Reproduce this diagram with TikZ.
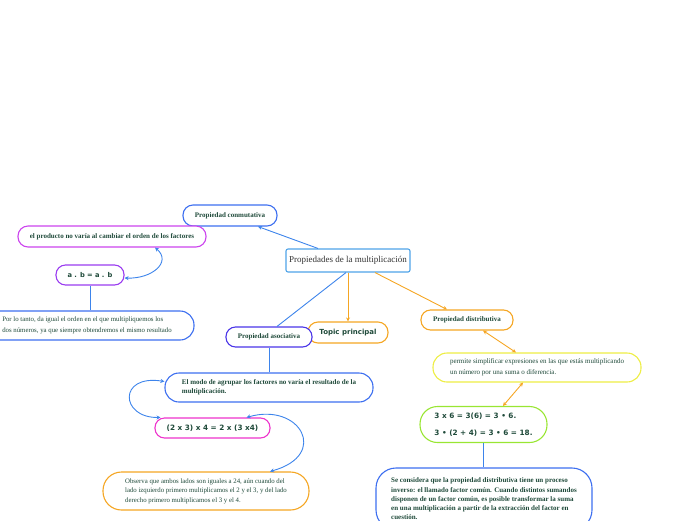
\documentclass[tikz,border=0pt]{standalone}
\usepackage{fontspec}
\setmainfont{Liberation Serif}
\newfontfamily\formfont{DejaVu Sans}
\usetikzlibrary{arrows.meta}
\definecolor{tgreen}{HTML}{1F4A3A}
\definecolor{rootblue}{HTML}{4FA3E8}
\definecolor{cblue}{HTML}{3D6FF0}
\definecolor{lblue}{HTML}{3D84EB}
\definecolor{cmag}{HTML}{CC44EE}
\definecolor{cpurp}{HTML}{9A3CF0}
\definecolor{cviol}{HTML}{4A35E8}
\definecolor{corange}{HTML}{F5A623}
\definecolor{cyellow}{HTML}{EEEE44}
\definecolor{cgreen}{HTML}{99E633}
\definecolor{cpink}{HTML}{EE33CC}
\tikzset{
  box/.style={draw, fill=white, line width=1.1pt, inner sep=0pt, align=left, text=tgreen},
  smallbold/.style={font=\fontsize{7}{9.2}\selectfont\bfseries},
  smallreg/.style={font=\fontsize{6.8}{11}\selectfont},
  formula/.style={font=\fontsize{7.3}{9}\selectfont\formfont\bfseries},
  bconn/.style={draw=lblue, line width=0.9pt},
  oconn/.style={draw=corange, line width=0.9pt},
  tip/.style={-{Stealth[length=4pt,width=4pt]}},
  dtip/.style={{Stealth[length=4pt,width=4pt]}-{Stealth[length=4pt,width=4pt]}}
}
\begin{document}
\begin{tikzpicture}[x=1pt,y=-1pt]
\useasboundingbox (0,0) rectangle (696,520);

% nodes
\node[box, draw=rootblue, rounded corners=2pt, minimum width=124pt, minimum height=23pt,
      text=black!80, font=\fontsize{9}{10}\selectfont] (root) at (348,260.5) {Propiedades de la multiplicación};

\node[box, draw=cblue, rounded corners=10pt, minimum width=94pt, minimum height=21pt, smallbold] (conm) at (230,215.5) {Propiedad conmutativa};
\node[box, draw=cmag, rounded corners=10pt, minimum width=188pt, minimum height=21pt, smallbold] (prod) at (112,236.5) {el producto no varía al cambiar el orden de los factores};
\node[box, draw=cpurp, rounded corners=9.5pt, minimum width=68pt, minimum height=20pt, formula, font=\fontsize{6.7}{9}\selectfont\formfont\bfseries] (ab) at (90,275) {a . b = a . b};
\node[box, draw=cblue, rounded corners=14pt, minimum width=214pt, minimum height=29pt, smallreg] (porlo) at (87,325.5) {Por lo tanto, da igual el orden en el que multipliquemos los\\dos números, ya que siempre obtendremos el mismo resultado};

\node[box, draw=corange, rounded corners=10pt, minimum width=80pt, minimum height=21pt,
      font=\fontsize{7}{9}\selectfont\formfont\bfseries] (topic) at (348,332.5) {Topic principal};
\node[box, draw=cviol, rounded corners=9.5pt, minimum width=86pt, minimum height=20pt, smallbold] (asoc) at (269,337) {Propiedad asociativa};
\node[box, draw=corange, rounded corners=9.5pt, minimum width=92pt, minimum height=20pt, smallbold] (distr) at (467,320) {Propiedad distributiva};

\node[box, draw=cyellow, rounded corners=14pt, minimum width=208pt, minimum height=29pt, font=\fontsize{7}{10.5}\selectfont] (permite) at (537,367.5) {permite simplificar expresiones en las que estás multiplicando\\un número por una suma o diferencia.};
\node[box, draw=cgreen, rounded corners=17.5pt, minimum width=127pt, minimum height=36pt,
      font=\fontsize{7.3}{17}\selectfont\formfont\bfseries] (eq) at (483.5,424.5) {3 x 6 = 3(6) = 3 • 6.\\3 • (2 + 4) = 3 • 6 = 18.};
\node[box, draw=cblue, rounded corners=20pt, minimum width=216pt, minimum height=62pt, smallbold] (secons) at (484,499) {Se considera que la propiedad distributiva tiene un proceso\\inverso: el llamado factor común. Cuando distintos sumandos\\disponen de un factor común, es posible transformar la suma\\en una multiplicación a partir de la extracción del factor en\\cuestión.};

\node[box, draw=cblue, rounded corners=14pt, minimum width=208pt, minimum height=29pt, smallbold] (modo) at (269,387.5) {El modo de agrupar los factores no varía el resultado de la\\multiplicación.};
\node[box, draw=cpink, rounded corners=9.5pt, minimum width=115pt, minimum height=20pt, formula] (eqb) at (212.5,428) {(2 x 3) x 4 = 2 x (3 x4)};
\node[box, draw=corange, rounded corners=18.5pt, minimum width=206pt, minimum height=38pt,
      font=\fontsize{6.8}{9.5}\selectfont] (obs) at (206,491) {Observa que ambos lados son iguales a 24, aún cuando del\\lado izquierdo primero multiplicamos el 2 y el 3, y del lado\\derecho primero multiplicamos el 3 y el 4.};

% connectors
\draw[bconn, tip] ([xshift=-30pt]root.north) -- ([xshift=28pt]conm.south);
\draw[bconn] ([xshift=-2pt]root.south) -- ([xshift=8pt]asoc.north);
\draw[oconn, tip] (root.south) -- (topic.north);
\draw[oconn, tip] ([xshift=27pt]root.south) -- ([xshift=-20pt]distr.north);

\draw[bconn, dtip] ([xshift=43pt]prod.south) .. controls (172,262) and (152,279) .. ([yshift=-3pt]ab.east);
\draw[bconn] (ab.south) -- (ab.south |- porlo.north);
\draw[bconn] (asoc.south) -- (modo.north);
\draw[bconn, dtip] ([yshift=6pt]modo.west) .. controls (118,374) and (120,418) .. ([xshift=-52pt]eqb.north);
\draw[bconn, dtip] ([xshift=34pt]eqb.north) .. controls (300,402) and (330,455) .. ([xshift=64pt]obs.north);

\draw[oconn, dtip] ([xshift=16pt]distr.south) -- ([xshift=-21pt]permite.north);
\draw[oconn, dtip] ([xshift=-14pt]permite.south) -- ([xshift=19.5pt]eq.north);
\draw[bconn] (eq.south) -- (eq.south |- secons.north);
\end{tikzpicture}
\end{document}
